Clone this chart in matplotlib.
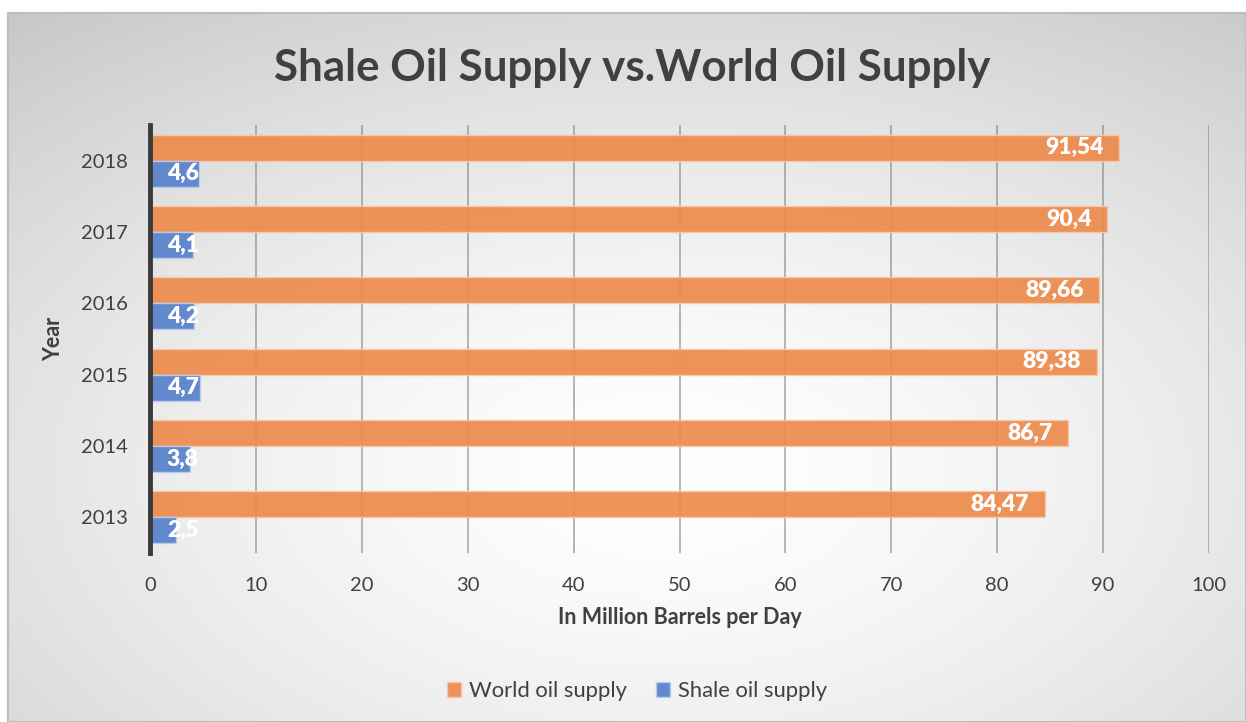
import numpy as np
import matplotlib.pyplot as plt
from matplotlib.patches import Rectangle

years = ['2013', '2014', '2015', '2016', '2017', '2018']
world = [84.47, 86.7, 89.38, 89.66, 90.4, 91.54]
shale = [2.5, 3.8, 4.7, 4.2, 4.1, 4.6]
xticks = [0, 10, 20, 30, 40, 50, 60, 70, 80, 90, 100]

orange = '#ED8B4D'
blue = '#5B83CC'
font = 'Lato'

W, H = 1246, 722
fig = plt.figure(figsize=(W / 100, H / 100), dpi=100)

# background panel with radial gradient
bg = fig.add_axes([0, 0, 1, 1], zorder=-5)
bg.axis('off')
yy, xx = np.mgrid[0:H, 0:W]
d = np.sqrt(((xx - 660) / 623.0) ** 2 + ((yy - 470) / 361.0) ** 2)
g = 1 - (55 / 255.0) * np.clip(d / 1.66, 0, 1.2) ** 1.5
img = np.dstack([g, g, g])
bg.imshow(img, extent=[8, W, H, 13], aspect='auto', zorder=0)
bg.add_patch(Rectangle((8, 13), W - 8, H - 13, fill=False, edgecolor='#bdbdbd', lw=1.5, zorder=1))
bg.set_xlim(0, W)
bg.set_ylim(H, 0)

ax = fig.add_axes([150 / W, 1 - 553 / H, (1209 - 150) / W, (553 - 125) / H])
ax.patch.set_alpha(0)

y = np.arange(len(years))
h = 0.365
ax.barh(y + h / 2, world, height=h, color=orange, alpha=0.93, edgecolor='#f6c9ab', lw=1, zorder=3, label='World oil supply')
ax.barh(y - h / 2, shale, height=h, color=blue, alpha=0.95, edgecolor='#bcccec', lw=1, zorder=3, label='Shale oil supply')

for i in range(len(years)):
    ax.text(world[i] - 1.5, y[i] + h / 2, str(world[i]).replace('.', ','), ha='right', va='center',
            color='white', fontsize=16.5, fontweight='heavy', family=font, zorder=5)
    ax.text(1.6, y[i] - h / 2, str(shale[i]).replace('.', ','), ha='left', va='center',
            color='white', fontsize=16.5, fontweight='heavy', family=font, zorder=5)

ax.set_xlim(0, 100)
ax.set_ylim(-0.5, len(years) - 0.5)
ax.set_xticks(xticks)
ax.set_xticklabels([str(t) for t in xticks], fontsize=14.5, color='#404040', family=font)
ax.set_yticks(y)
ax.set_yticklabels(years, fontsize=14.5, color='#404040', family=font)
ax.tick_params(axis='y', length=0, pad=16)
ax.tick_params(axis='x', length=0, pad=17)
ax.grid(axis='x', color='#7f7f7f', alpha=0.6, lw=1.3, zorder=1)
for s in ['top', 'right', 'bottom']:
    ax.spines[s].set_visible(False)
ax.spines['left'].set_color('#3a3a3a')
ax.spines['left'].set_linewidth(3.5)
ax.spines['left'].set_zorder(6)

ax.set_xlabel('In Million Barrels per Day', fontsize=15.5, fontweight='bold', color='#404040', family=font, labelpad=10)
ax.set_ylabel('Year', fontsize=15.5, fontweight='bold', color='#404040', family=font, labelpad=12)

fig.text(632 / W, 1 - 68 / H, 'Shale Oil Supply vs.World Oil Supply', ha='center', va='center',
         fontsize=31.7, fontweight='bold', color='#404040', family=font)

leg = fig.legend(loc='center', bbox_to_anchor=(637 / W, 1 - 691 / H), ncol=2, frameon=False,
                 prop={'family': font, 'size': 15.8}, handlelength=0.65, handleheight=0.65,
                 columnspacing=1.3, handletextpad=0.35)
for t in leg.get_texts():
    t.set_color('#404040')

fig.savefig('out.png', dpi=100)
